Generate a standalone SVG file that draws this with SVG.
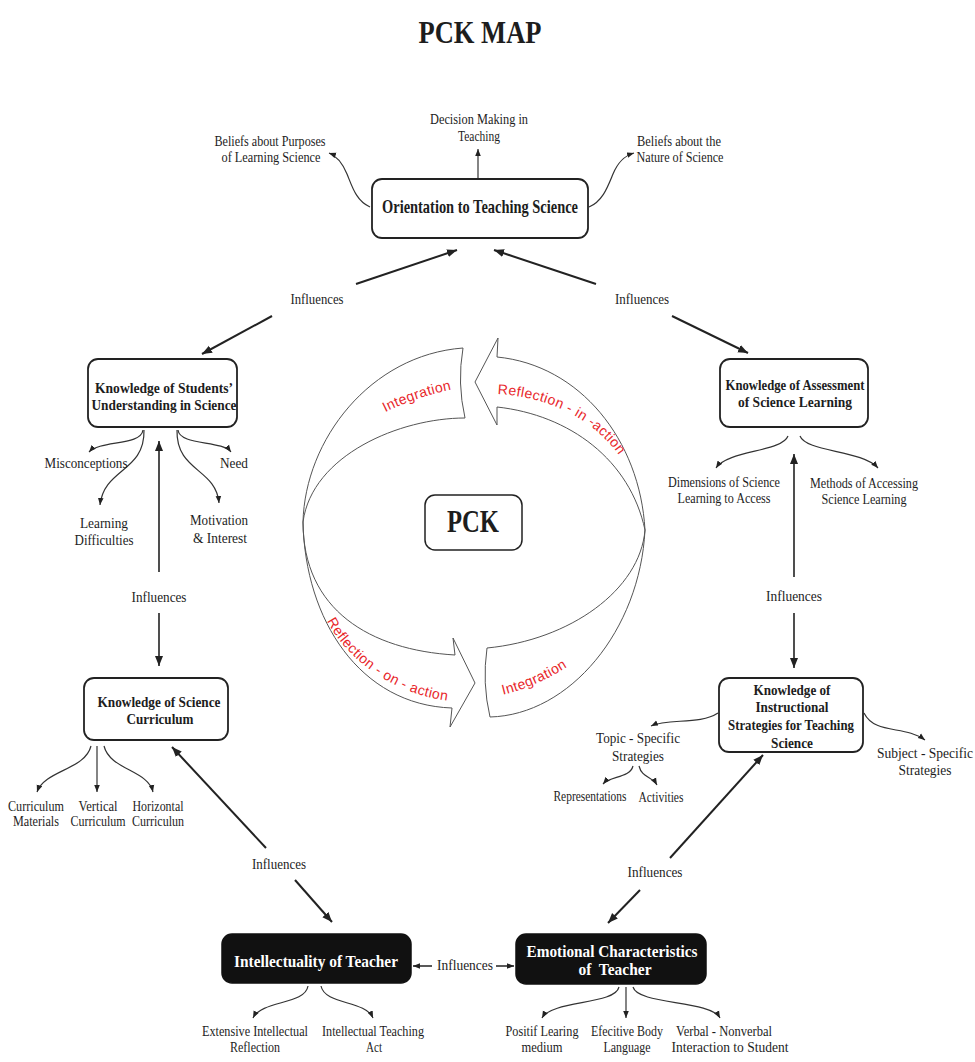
<svg xmlns="http://www.w3.org/2000/svg" width="975" height="1062" viewBox="0 0 975 1062">
<style>
.t{font-family:"Liberation Serif","Times New Roman",serif;font-size:14px;fill:#1d1d1d;text-anchor:middle}
.b{font-weight:bold}
.w{fill:#fff}
.r{font-family:"Liberation Sans",Arial,sans-serif;font-size:14px;fill:#e8262a;text-anchor:middle;letter-spacing:0.4px}
.box{fill:#fff;stroke:#222;stroke-width:1.8}
.dbox{fill:#111;stroke:#111;stroke-width:1.5}
.ln{fill:none;stroke:#333;stroke-width:1.2}
.thk{fill:none;stroke:#222;stroke-width:2}
.cyc{fill:#fff;stroke:#555;stroke-width:1}
</style>
<defs>
<marker id="a" viewBox="0 0 10 10" refX="10" refY="5" markerWidth="7" markerHeight="7" markerUnits="userSpaceOnUse" orient="auto"><path d="M0,1 L10,5 L0,9 z" fill="#222"/></marker>
<marker id="A" viewBox="0 0 10 10" refX="10" refY="5" markerWidth="10" markerHeight="10" markerUnits="userSpaceOnUse" orient="auto"><path d="M0,1 L10,5 L0,9 z" fill="#222"/></marker>
<path id="p1" d="M378,416 Q415,396 460,388"/>
<path id="p2" d="M486,394 C545,393 600,420 625,465"/>
<path id="p3" d="M320,606 C338,655 395,700 464,702"/>
<path id="p4" d="M498,696 Q535,688 572,664"/>
</defs>
<rect width="975" height="1062" fill="#fff"/>
<text class="t b" x="480" y="43" style="font-size:31px" textLength="123" lengthAdjust="spacingAndGlyphs">PCK MAP</text>

<g id="cycle">
<path class="cyc" d="M303,522 C305,440 370,355 463,348 Q457,383 465,418 C400,418 312,455 303,522 Z"/>
<path class="cyc" d="M645,530 C640,440 580,365 497,357 L498,338 L475,382 L497,425 L497,407 C570,415 630,460 645,530 Z"/>
<path class="cyc" d="M303,522 C303,610 370,650 455,655 L453,638 L475,683 L450,727 L452,708 C360,705 305,620 303,522 Z"/>
<path class="cyc" d="M490,717 C570,715 640,630 645,530 C640,590 570,640 487,648 Q482,683 490,717 Z"/>
<text class="r"><textPath href="#p1" startOffset="50%">Integration</textPath></text>
<text class="r"><textPath href="#p2" startOffset="50%">Reflection - in -action</textPath></text>
<text class="r"><textPath href="#p3" startOffset="50%">Reflection - on - action</textPath></text>
<text class="r"><textPath href="#p4" startOffset="50%">Integration</textPath></text>
</g>

<g id="connectors">
<path class="thk" d="M356,284 L457,250" marker-end="url(#A)"/>
<path class="thk" d="M596,284 L494,250" marker-end="url(#A)"/>
<path class="thk" d="M272,316 L202,354" marker-end="url(#A)"/>
<path class="thk" d="M672,316 L748,353" marker-end="url(#A)"/>
<path class="thk" style="stroke-width:1.6" d="M159,572 L159,441" marker-end="url(#A)"/>
<path class="thk" style="stroke-width:1.6" d="M159,613 L159,666" marker-end="url(#A)"/>
<path class="thk" style="stroke-width:1.6" d="M794,577 L794,454" marker-end="url(#A)"/>
<path class="thk" style="stroke-width:1.6" d="M794,613 L794,668" marker-end="url(#A)"/>
<path class="thk" d="M266,848 L172,747" marker-end="url(#A)"/>
<path class="thk" d="M295,880 L332,922" marker-end="url(#A)"/>
<path class="thk" d="M670,858 L763,755" marker-end="url(#A)"/>
<path class="thk" d="M640,890 L608,923" marker-end="url(#A)"/>
<path class="thk" style="stroke-width:1.5" d="M432,966 L413,966" marker-end="url(#a)"/>
<path class="thk" style="stroke-width:1.5" d="M496,966 L514,966" marker-end="url(#a)"/>
<path class="ln" d="M478,178 L478,149" marker-end="url(#a)"/>
<path class="ln" d="M370,207 C356,201 352,186 347,174 C342,162 337,156 329,153" marker-end="url(#a)"/>
<path class="ln" d="M589,207 C603,201 608,186 613,174 C618,162 624,156 634,153" marker-end="url(#a)"/>
<path class="ln" d="M143,430 C141,446 100,440 89,452" marker-end="url(#a)"/>
<path class="ln" d="M144,430 C145,472 104,468 100,505" marker-end="url(#a)"/>
<path class="ln" d="M178,430 C180,446 222,440 231,452" marker-end="url(#a)"/>
<path class="ln" d="M177,430 C176,472 216,468 219,503" marker-end="url(#a)"/>
<path class="ln" d="M788,436 C782,452 728,450 716,468" marker-end="url(#a)"/>
<path class="ln" d="M800,436 C806,452 862,450 878,468" marker-end="url(#a)"/>
<path class="ln" d="M91,746 C85,770 45,770 37,792" marker-end="url(#a)"/>
<path class="ln" d="M97,746 L97,792" marker-end="url(#a)"/>
<path class="ln" d="M104,746 C110,770 148,770 153,792" marker-end="url(#a)"/>
<path class="ln" d="M718,713 C700,725 668,718 651,726" marker-end="url(#a)"/>
<path class="ln" d="M864,713 C875,735 905,725 925,740" marker-end="url(#a)"/>
<path class="ln" d="M633,766 C630,778 610,776 603,784" marker-end="url(#a)"/>
<path class="ln" d="M639,766 C642,778 652,776 657,785" marker-end="url(#a)"/>
<path class="ln" d="M308,986 C305,1005 262,1000 253,1018" marker-end="url(#a)"/>
<path class="ln" d="M321,986 C325,1005 365,1000 373,1018" marker-end="url(#a)"/>
<path class="ln" d="M619,987 C615,1005 552,1000 542,1018" marker-end="url(#a)"/>
<path class="ln" d="M626,987 L626,1018" marker-end="url(#a)"/>
<path class="ln" d="M633,987 C638,1005 710,1000 720,1018" marker-end="url(#a)"/>
</g>

<g id="influence-labels">
<text class="t" x="317" y="304" textLength="53" lengthAdjust="spacingAndGlyphs">Influences</text>
<text class="t" x="642" y="304" textLength="54" lengthAdjust="spacingAndGlyphs">Influences</text>
<text class="t" x="159" y="602" textLength="55" lengthAdjust="spacingAndGlyphs">Influences</text>
<text class="t" x="794" y="601" textLength="56" lengthAdjust="spacingAndGlyphs">Influences</text>
<text class="t" x="279" y="869" textLength="54" lengthAdjust="spacingAndGlyphs">Influences</text>
<text class="t" x="655" y="877" textLength="55" lengthAdjust="spacingAndGlyphs">Influences</text>
<text class="t" x="465" y="970" textLength="56" lengthAdjust="spacingAndGlyphs">Influences</text>
</g>

<g id="orientation">
<rect class="box" x="372" y="179" width="216" height="59" rx="10"/>
<text class="t b" x="480" y="213" style="font-size:19px" textLength="196" lengthAdjust="spacingAndGlyphs">Orientation to Teaching Science</text>
<text class="t" x="479" y="124" textLength="98" lengthAdjust="spacingAndGlyphs">Decision Making in</text>
<text class="t" x="479" y="141" textLength="42" lengthAdjust="spacingAndGlyphs">Teaching</text>
<text class="t" x="270" y="146" textLength="111" lengthAdjust="spacingAndGlyphs">Beliefs about Purposes</text>
<text class="t" x="271" y="162" textLength="99" lengthAdjust="spacingAndGlyphs">of Learning Science</text>
<text class="t" x="679" y="146" textLength="84" lengthAdjust="spacingAndGlyphs">Beliefs about the</text>
<text class="t" x="680" y="162" textLength="87" lengthAdjust="spacingAndGlyphs">Nature of Science</text>
</g>

<g id="students">
<rect class="box" x="88" y="359" width="149" height="68" rx="10"/>
<text class="t b" x="164" y="393" style="font-size:15px" textLength="138" lengthAdjust="spacingAndGlyphs">Knowledge of Students’</text>
<text class="t b" x="164" y="410" style="font-size:15px" textLength="145" lengthAdjust="spacingAndGlyphs">Understanding in Science</text>
<text class="t" x="86" y="468" textLength="83" lengthAdjust="spacingAndGlyphs">Misconceptions</text>
<text class="t" x="234" y="468" textLength="28" lengthAdjust="spacingAndGlyphs">Need</text>
<text class="t" x="104" y="528" textLength="48" lengthAdjust="spacingAndGlyphs">Learning</text>
<text class="t" x="104" y="545" textLength="59" lengthAdjust="spacingAndGlyphs">Difficulties</text>
<text class="t" x="219" y="525" textLength="58" lengthAdjust="spacingAndGlyphs">Motivation</text>
<text class="t" x="220" y="543" textLength="54" lengthAdjust="spacingAndGlyphs">&amp; Interest</text>
</g>

<g id="assessment">
<rect class="box" x="720" y="359" width="148" height="68" rx="10"/>
<text class="t b" x="795" y="390" style="font-size:15px" textLength="139" lengthAdjust="spacingAndGlyphs">Knowledge of Assessment</text>
<text class="t b" x="795" y="407" style="font-size:15px" textLength="114" lengthAdjust="spacingAndGlyphs">of Science Learning</text>
<text class="t" x="724" y="487" textLength="112" lengthAdjust="spacingAndGlyphs">Dimensions of Science</text>
<text class="t" x="724" y="503" textLength="93" lengthAdjust="spacingAndGlyphs">Learning to Access</text>
<text class="t" x="864" y="488" textLength="108" lengthAdjust="spacingAndGlyphs">Methods of Accessing</text>
<text class="t" x="864" y="504" textLength="85" lengthAdjust="spacingAndGlyphs">Science Learning</text>
</g>

<g id="pck">
<rect class="box" x="425" y="495" width="97" height="55" rx="10" style="stroke-width:1.5"/>
<text class="t b" x="473" y="532" style="font-size:31px" textLength="52" lengthAdjust="spacingAndGlyphs">PCK</text>
</g>

<g id="curriculum">
<rect class="box" x="84" y="678" width="144" height="62" rx="10"/>
<text class="t b" x="159" y="707" style="font-size:15px" textLength="123" lengthAdjust="spacingAndGlyphs">Knowledge of Science</text>
<text class="t b" x="160" y="724" style="font-size:15px" textLength="67" lengthAdjust="spacingAndGlyphs">Curriculum</text>
<text class="t" x="36" y="811" textLength="56" lengthAdjust="spacingAndGlyphs">Curriculum</text>
<text class="t" x="36" y="826" textLength="46" lengthAdjust="spacingAndGlyphs">Materials</text>
<text class="t" x="98" y="811" textLength="39" lengthAdjust="spacingAndGlyphs">Vertical</text>
<text class="t" x="98" y="826" textLength="55" lengthAdjust="spacingAndGlyphs">Curriculum</text>
<text class="t" x="158" y="811" textLength="51" lengthAdjust="spacingAndGlyphs">Horizontal</text>
<text class="t" x="158" y="826" textLength="52" lengthAdjust="spacingAndGlyphs">Curriculun</text>
</g>

<g id="instructional">
<rect class="box" x="719" y="678" width="144" height="74" rx="10"/>
<text class="t b" x="792" y="695" style="font-size:15px" textLength="77" lengthAdjust="spacingAndGlyphs">Knowledge of</text>
<text class="t b" x="792" y="712" style="font-size:15px" textLength="73" lengthAdjust="spacingAndGlyphs">Instructional</text>
<text class="t b" x="791" y="730" style="font-size:15px" textLength="126" lengthAdjust="spacingAndGlyphs">Strategies for Teaching</text>
<text class="t b" x="792" y="748" style="font-size:15px" textLength="42" lengthAdjust="spacingAndGlyphs">Science</text>
<text class="t" x="638" y="743" textLength="84" lengthAdjust="spacingAndGlyphs">Topic - Specific</text>
<text class="t" x="638" y="761" textLength="52" lengthAdjust="spacingAndGlyphs">Strategies</text>
<text class="t" x="590" y="801" textLength="73" lengthAdjust="spacingAndGlyphs">Representations</text>
<text class="t" x="661" y="802" textLength="45" lengthAdjust="spacingAndGlyphs">Activities</text>
<text class="t" x="925" y="758" textLength="96" lengthAdjust="spacingAndGlyphs">Subject - Specific</text>
<text class="t" x="925" y="775" textLength="53" lengthAdjust="spacingAndGlyphs">Strategies</text>
</g>

<g id="intellectuality">
<rect class="dbox" x="222" y="934" width="189" height="49" rx="10"/>
<text class="t b w" x="316" y="967" style="font-size:17px" textLength="164" lengthAdjust="spacingAndGlyphs">Intellectuality of Teacher</text>
<text class="t" x="255" y="1036" textLength="106" lengthAdjust="spacingAndGlyphs">Extensive Intellectual</text>
<text class="t" x="255" y="1052" textLength="50" lengthAdjust="spacingAndGlyphs">Reflection</text>
<text class="t" x="373" y="1036" textLength="102" lengthAdjust="spacingAndGlyphs">Intellectual Teaching</text>
<text class="t" x="374" y="1052" textLength="16" lengthAdjust="spacingAndGlyphs">Act</text>
</g>

<g id="emotional">
<rect class="dbox" x="516" y="934" width="190" height="50" rx="10"/>
<text class="t b w" x="612" y="957" style="font-size:17px" textLength="171" lengthAdjust="spacingAndGlyphs">Emotional Characteristics</text>
<text class="t b w" x="615" y="975" style="font-size:17px;white-space:pre" textLength="73" lengthAdjust="spacingAndGlyphs">of  Teacher</text>
<text class="t" x="542" y="1036" textLength="73" lengthAdjust="spacingAndGlyphs">Positif Learing</text>
<text class="t" x="542" y="1052" textLength="41" lengthAdjust="spacingAndGlyphs">medium</text>
<text class="t" x="627" y="1036" textLength="72" lengthAdjust="spacingAndGlyphs">Efecitive Body</text>
<text class="t" x="627" y="1052" textLength="47" lengthAdjust="spacingAndGlyphs">Language</text>
<text class="t" x="724" y="1036" textLength="96" lengthAdjust="spacingAndGlyphs">Verbal - Nonverbal</text>
<text class="t" x="730" y="1052" textLength="117" lengthAdjust="spacingAndGlyphs">Interaction to Student</text>
</g>
</svg>
